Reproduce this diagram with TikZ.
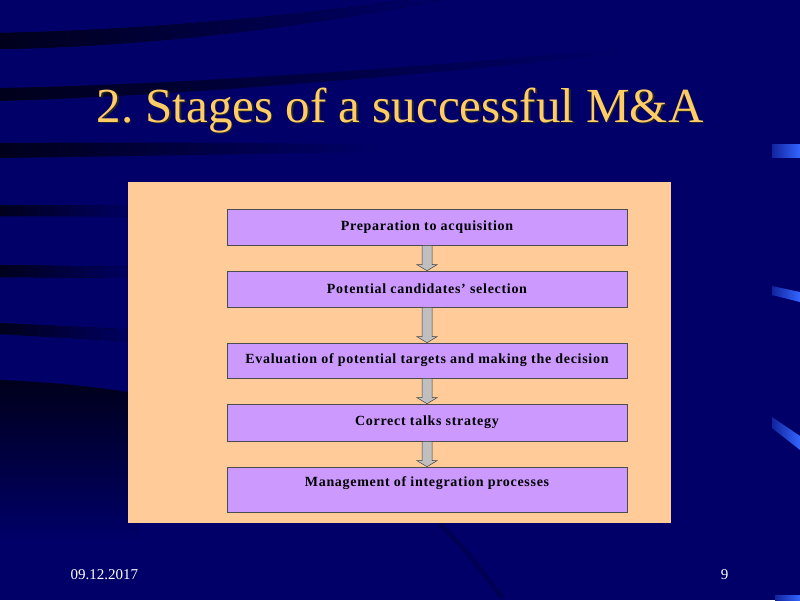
\documentclass[tikz,border=0pt]{standalone}
\usepackage{fontspec}
\setmainfont{Liberation Serif}
\newfontfamily\stagefont[LetterSpace=5]{Liberation Serif}
\usetikzlibrary{calc}
\frenchspacing

\definecolor{slidebg}{HTML}{000068}
\definecolor{ribbon}{HTML}{00001C}
\definecolor{panelfill}{HTML}{FFCC99}
\definecolor{stagefill}{HTML}{CC99FF}
\definecolor{titlegold}{HTML}{FFCC66}
\definecolor{glow}{HTML}{3366FF}

\begin{document}
\begin{tikzpicture}[x=1pt, y=-1pt,
        ribbon/.style={left color=ribbon, right color=slidebg},
        sideglow/.style={left color=glow!35!slidebg, right color=glow},
        panel/.style={fill=panelfill},
        stage/.style={draw=black!70, fill=stagefill, line width=0.6pt,
            minimum width=400pt, minimum height=36pt, inner sep=2pt,
            font=\stagefont\bfseries\fontsize{14}{16}\selectfont},
        blockarrow/.style={draw=black!75, fill=black!25, line width=0.5pt,
            to path={let \p1=(\tikztostart), \p2=(\tikztotarget) in
                (\x1-5pt,\y1) -- (\x1+5pt,\y1) -- (\x1+5pt,\y2+6pt) -- (\x1+10pt,\y2+6pt)
                -- (\x1,\y2) -- (\x1-10pt,\y2+6pt) -- (\x1-5pt,\y2+6pt) -- cycle}},
    ]
    \useasboundingbox (0,0) rectangle (800,600);
    \fill[slidebg] (0,0) rectangle (800,600);

    % dark ribbons
    \fill[ribbon] (0,33) .. controls (160,30) and (320,12) .. (410,0) -- (440,0) .. controls (330,22) and (170,46) .. (0,49) -- cycle;
    \shade[ribbon] (0,88) .. controls (200,84) and (450,65) .. (620,48) -- (620,54) .. controls (450,72) and (200,95) .. (0,101) -- cycle;
    \shade[ribbon] (0,143) .. controls (150,142) and (300,143) .. (380,145) -- (380,152) .. controls (300,153) and (150,156) .. (0,158) -- cycle;
    \fill[ribbon] (0,205) -- (140,206) -- (140,216) -- (0,216) -- cycle;
    \fill[ribbon] (0,265) -- (140,267) -- (140,278) -- (0,277) -- cycle;
    \fill[ribbon] (0,323) -- (140,330) -- (140,342) -- (0,334) -- cycle;
    \shade[top color=ribbon, middle color=ribbon, bottom color=slidebg] (0,380) .. controls (50,382) and (100,387) .. (140,394) -- (140,540) -- (0,540) -- cycle;
    \draw[ribbon!25!slidebg, line width=5pt] (440,524) .. controls (470,555) .. (502,598);

    % glows on the right edge
    \shade[sideglow] (772,144) rectangle (800,157);
    \shade[sideglow] (772,286) -- (800,292) -- (800,302) -- (772,295) -- cycle;
    \shade[sideglow] (772,417) -- (800,436) -- (800,450) -- (772,428) -- cycle;
    \shade[sideglow] (775,595) rectangle (800,600);

    % title
    \node[text=black!85, anchor=base, font=\fontsize{49}{55}\selectfont] (titleshadow) at (401.5,123.5) {2. Stages of a successful M\&A};
    \node[text=titlegold, anchor=base, font=\fontsize{49}{55}\selectfont] (title) at (400,122) {2. Stages of a successful M\&A};

    \fill[panel] (128,182) rectangle (671,523);

    \node[stage] (s1) at (427,227) {Preparation to acquisition};
    \node[stage] (s2) at (427,289) {Potential candidates’ selection};
    \node[stage, minimum height=35pt] (s3) at (427,360.5) {Evaluation of potential targets and making the decision};
    \node[stage, minimum height=37pt] (s4) at (427,422.5) {Correct talks strategy};
    \node[stage, minimum height=45pt, text height=10pt, text depth=16pt] (s5) at (427,489.5) {Management of integration processes};

    \draw[blockarrow] (s1.south) to (s2.north);
    \draw[blockarrow] (s2.south) to (s3.north);
    \draw[blockarrow] (s3.south) to (s4.north);
    \draw[blockarrow] (s4.south) to (s5.north);

    \node[text=white, anchor=base west, font=\fontsize{15}{17}\selectfont] (date) at (67,579) {09.12.2017};
    \node[text=white, anchor=base east, font=\fontsize{15}{17}\selectfont] (pagenum) at (732,579) {9};
\end{tikzpicture}
\end{document}
